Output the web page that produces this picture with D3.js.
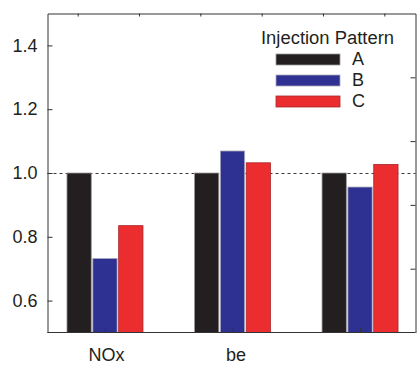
<!DOCTYPE html>
<html>
<head>
<meta charset="utf-8">
<script src="https://cdn.jsdelivr.net/npm/d3@7"></script>
<style>
  html, body { margin: 0; padding: 0; background: #fff; }
  svg { display: block; font-family: "Liberation Sans", Arial, sans-serif; }
</style>
</head>
<body>
<svg id="chart" width="418" height="367"></svg>
<script>
// Normalised results per metric for the three injection patterns
const categories = ["NOx", "be", ""];
const patterns = ["A", "B", "C"];
const valuesA = [1.0, 1.0, 1.0];
const valuesB = [0.732, 1.069, 0.956];
const valuesC = [0.835, 1.032, 1.027];
const yTicks = [0.6, 0.8, 1.0, 1.2, 1.4];
const yTicksRight = [0.7, 0.9, 1.1, 1.3];
const yDomain = [0.5, 1.5];
const reference = 1.0;
const legendTitle = "Injection Pattern";

const series = [valuesA, valuesB, valuesC];
const colors = ["#231f20", "#2e3192", "#ec2d2f"];
const strokes = ["#9a9a9a", "#a9a9b8", "#a8282a"];
const ink = "#231f20";

const svg = d3.select("#chart");
const plotLeft = 47.5, plotRight = 415.5, plotTop = 13.5, plotBottom = 332.5;

const y = d3.scaleLinear().domain(yDomain).range([plotBottom, plotTop]);
const x = d3.scalePoint().domain(categories).range([50, 415]).padding(0.431);
const xInner = d3.scaleBand().domain(patterns).range([-38, 38]).paddingInner(0.06);

// reference line at 1.0, drawn beneath the bars
const yRef = Math.round(y(reference)) + 0.5;
svg.append("line")
  .attr("x1", plotLeft).attr("x2", plotRight)
  .attr("y1", yRef).attr("y2", yRef)
  .attr("stroke", "#3a3a3a").attr("stroke-width", 1)
  .attr("stroke-dasharray", "3,3");

// bars
const groups = svg.append("g").selectAll("g")
  .data(categories)
  .join("g")
  .attr("transform", d => `translate(${x(d)},0)`);

groups.selectAll("rect")
  .data((d, i) => patterns.map((p, j) => ({ p, j, v: series[j][i] })))
  .join("rect")
  .attr("x", d => xInner(d.p))
  .attr("width", xInner.bandwidth())
  .attr("y", d => y(d.v))
  .attr("height", d => y(yDomain[0]) - y(d.v))
  .attr("fill", d => colors[d.j])
  .attr("stroke", d => strokes[d.j])
  .attr("stroke-width", 0.8);

// frame axes
const axisLeft = d3.axisLeft(y).tickValues(yTicks).tickFormat(d3.format(".1f"))
  .tickSizeInner(-5).tickSizeOuter(0).tickPadding(10);
svg.append("g").attr("transform", `translate(${plotLeft},0)`).call(axisLeft)
  .call(g => g.selectAll("text").attr("font-size", 18).attr("fill", ink));

const axisRight = d3.axisRight(y).tickValues(yTicksRight).tickFormat("")
  .tickSizeInner(-5).tickSizeOuter(0);
svg.append("g").attr("transform", `translate(${plotRight},0)`).call(axisRight);

const axisBottom = d3.axisBottom(x).tickSizeInner(-4).tickSizeOuter(0).tickPadding(16);
svg.append("g").attr("transform", `translate(0,${plotBottom})`).call(axisBottom)
  .call(g => g.select(".domain").attr("d", `M${plotLeft},0H${plotRight}`))
  .call(g => g.selectAll("text").attr("font-size", 18).attr("fill", ink)
    .attr("dx", (d, i) => (i === 1 ? 3 : 1)));

// top edge: six evenly spaced minor ticks
const xTop = d3.scaleBand().domain(d3.range(6)).range([plotLeft, plotRight]);
const axisTop = d3.axisTop(xTop).tickFormat("").tickSizeInner(-3).tickSizeOuter(0);
svg.append("g").attr("transform", `translate(0,${plotTop})`).call(axisTop);

svg.selectAll(".domain, .tick line").attr("stroke", "#333").attr("stroke-width", 1);

// legend
const legend = svg.append("g");
legend.append("text")
  .attr("x", 261).attr("y", 44)
  .attr("font-size", 18).attr("fill", ink)
  .attr("textLength", 133).attr("lengthAdjust", "spacingAndGlyphs")
  .text(legendTitle);
const items = legend.selectAll("g.item")
  .data(patterns)
  .join("g").attr("class", "item")
  .attr("transform", (d, i) => `translate(276,${54 + i * 21})`);
items.append("rect")
  .attr("width", 64).attr("height", 11)
  .attr("fill", (d, i) => colors[i])
  .attr("stroke", (d, i) => strokes[i]).attr("stroke-width", 0.8);
items.append("text")
  .attr("x", 76).attr("y", 11)
  .attr("font-size", 18).attr("fill", ink)
  .text(d => d);
</script>
</body>
</html>
